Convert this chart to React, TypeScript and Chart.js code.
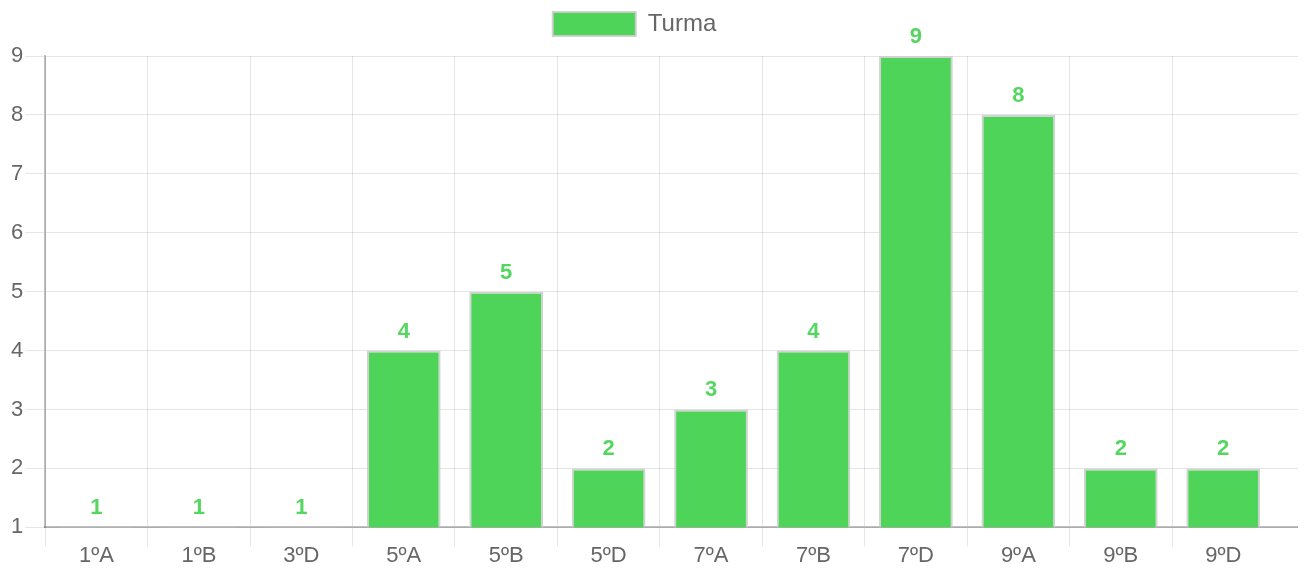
import React, { useEffect, useRef } from "react";
import { Chart, registerables } from "chart.js";
Chart.register(...registerables);

const categories = ["1ºA", "1ºB", "3ºD", "5ºA", "5ºB", "5ºD", "7ºA", "7ºB", "7ºD", "9ºA", "9ºB", "9ºD"];
const turmaValues = [1, 1, 1, 4, 5, 2, 3, 4, 9, 8, 2, 2];
const seriesLabel = "Turma";

const GREEN = "rgb(78, 212, 88)";
const LABEL_GREEN = "rgb(84, 214, 96)";
const FONT = "'Liberation Sans', Arial, sans-serif";
// the category band leaves an empty strip at the right of the plot
const X_RANGE_SLOTS = 12.23;

const dataLabelPlugin = {
  id: "dataLabels",
  afterDatasetsDraw(chart: any) {
    const ctx = chart.ctx;
    ctx.save();
    ctx.font = "bold 22px " + FONT;
    ctx.fillStyle = LABEL_GREEN;
    ctx.textAlign = "center";
    ctx.textBaseline = "alphabetic";
    chart.data.datasets.forEach((ds: any, i: number) => {
      const meta = chart.getDatasetMeta(i);
      meta.data.forEach((bar: any, j: number) => {
        ctx.fillText(String(ds.data[j]), bar.x, bar.y - 13);
      });
    });
    ctx.restore();
  },
};

const legendSpacing = {
  id: "legendSpacing",
  beforeInit(chart: any) {
    const legend = chart.legend;
    if (!legend) return;
    const orig = legend.fit;
    legend.fit = function () {
      orig.call(this);
      this.height += 10;
      if (this.lineWidths && this.lineWidths.length) this.lineWidths[0] += 38;
    };
  },
};

export default function App() {
  const ref = useRef<HTMLCanvasElement>(null);
  useEffect(() => {
    if (!ref.current) return;
    const chart = new Chart(ref.current, {
      type: "bar",
      data: {
        labels: categories,
        datasets: [
          {
            label: seriesLabel,
            data: turmaValues,
            backgroundColor: GREEN,
            borderColor: "rgba(205,205,205,0.9)",
            borderWidth: 2,
          },
        ],
      },
      options: {
        animation: false,
        responsive: true,
        maintainAspectRatio: false,
        layout: { padding: { top: 0, right: 0, left: 1, bottom: 0 } },
        plugins: {
          legend: {
            display: true,
            labels: {
              boxWidth: 83,
              boxHeight: 24,
              color: "#666",
              font: { size: 24, family: FONT },
              padding: 4,
            },
          },
          tooltip: { enabled: false },
        },
        scales: {
          x: {
            afterBuildTicks(scale: any) {
              scale._valueRange = X_RANGE_SLOTS;
            },
            grid: {
              color: (c: any) => (c.type === "tick" ? "rgba(0,0,0,0.1)" : "rgba(0,0,0,0)"),
              tickLength: 19,
              offset: true,
            },
            border: { color: "rgba(0,0,0,0.25)", width: 2 },
            ticks: {
              color: "#666",
              padding: 0,
              font: { size: 22, family: FONT, lineHeight: 0.85 },
            },
          },
          y: {
            min: 1,
            max: 9,
            grid: { color: "rgba(0,0,0,0.1)", tickLength: 20 },
            border: { color: "rgba(0,0,0,0.25)", width: 2 },
            ticks: {
              stepSize: 1,
              color: "#666",
              padding: 2,
              font: { size: 22, family: FONT },
            },
          },
        },
      },
      plugins: [dataLabelPlugin, legendSpacing],
    });
    return () => chart.destroy();
  }, []);
  return (
    <div style={{ width: 1290, height: 557 }}>
      <canvas ref={ref} />
    </div>
  );
}
